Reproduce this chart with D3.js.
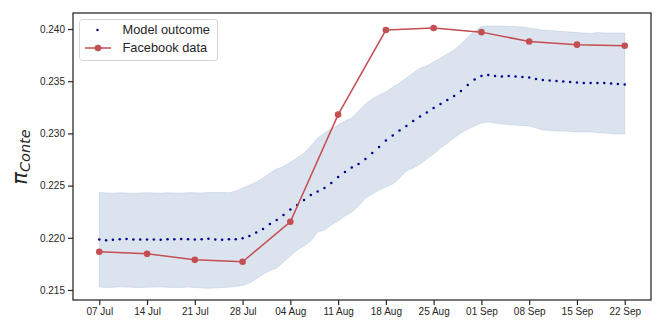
<!DOCTYPE html>
<html>
<head>
<meta charset="utf-8">
<script src="https://d3js.org/d3.v7.min.js"></script>
<style>
  body { margin: 0; background: #fff; }
  svg { display: block; font-family: "Liberation Sans", Arial, sans-serif; }
</style>
</head>
<body>
<div class="vis"></div>
<script>
  // weekly tick labels / Facebook survey dates
  const weekLabels = ["07 Jul", "14 Jul", "21 Jul", "28 Jul", "04 Aug", "11 Aug",
    "18 Aug", "25 Aug", "01 Sep", "08 Sep", "15 Sep", "22 Sep"];
  const facebook = [0.21866, 0.21847, 0.21789, 0.2177, 0.22153, 0.2318,
    0.2399, 0.2401, 0.2397, 0.2388, 0.2385, 0.2384];

  // daily model outcome, from 07 Jul to 22 Sep
  const modelMean = [
    0.21983, 0.21976, 0.21982, 0.21986, 0.21988, 0.21984, 0.21984, 0.21984, 0.21983, 0.21982,
    0.21985, 0.21986, 0.21989, 0.21985, 0.21983, 0.21987, 0.21990, 0.21983, 0.21982, 0.21985,
    0.21986, 0.21995, 0.22017, 0.22051, 0.22084, 0.22132, 0.22170, 0.22218, 0.22271, 0.22314,
    0.22362, 0.22410, 0.22443, 0.22477, 0.22525, 0.22582, 0.22630, 0.22673, 0.22707, 0.22755,
    0.22812, 0.22870, 0.22932, 0.22980, 0.23028, 0.23071, 0.23119, 0.23162, 0.23200, 0.23243,
    0.23282, 0.23320, 0.23358, 0.23406, 0.23464, 0.23516, 0.23550, 0.23559, 0.23550, 0.23545,
    0.23550, 0.23545, 0.23540, 0.23535, 0.23521, 0.23511, 0.23507, 0.23502, 0.23497, 0.23492,
    0.23487, 0.23483, 0.23483, 0.23483, 0.23483, 0.23478, 0.23473, 0.23468];
  const modelUpper = [
    0.22434, 0.22429, 0.22427, 0.22431, 0.22429, 0.22426, 0.22429, 0.22432, 0.22429, 0.22427,
    0.22431, 0.22429, 0.22426, 0.22433, 0.22431, 0.22429, 0.22434, 0.22435, 0.22434, 0.22432,
    0.22448, 0.22477, 0.22506, 0.22534, 0.22573, 0.22620, 0.22659, 0.22683, 0.22726, 0.22764,
    0.22812, 0.22879, 0.22956, 0.23004, 0.23042, 0.23080, 0.23119, 0.23147, 0.23214, 0.23282,
    0.23329, 0.23368, 0.23396, 0.23444, 0.23483, 0.23531, 0.23578, 0.23626, 0.23646, 0.23684,
    0.23722, 0.23761, 0.23799, 0.23856, 0.23923, 0.23981, 0.24024, 0.24029, 0.24029, 0.24029,
    0.24024, 0.24024, 0.24019, 0.24010, 0.24000, 0.23990, 0.23986, 0.23981, 0.23976, 0.23971,
    0.23966, 0.23962, 0.23957, 0.23966, 0.23962, 0.23962, 0.23962, 0.23962];
  const modelLower = [
    0.21528, 0.21524, 0.21526, 0.21530, 0.21528, 0.21525, 0.21524, 0.21526, 0.21528, 0.21530,
    0.21526, 0.21524, 0.21525, 0.21528, 0.21523, 0.21519, 0.21516, 0.21519, 0.21524, 0.21526,
    0.21533, 0.21543, 0.21567, 0.21605, 0.21653, 0.21686, 0.21710, 0.21768, 0.21825, 0.21883,
    0.21921, 0.21969, 0.22055, 0.22074, 0.22122, 0.22161, 0.22209, 0.22247, 0.22304, 0.22381,
    0.22419, 0.22458, 0.22486, 0.22515, 0.22573, 0.22640, 0.22668, 0.22707, 0.22755, 0.22803,
    0.22860, 0.22908, 0.22956, 0.23004, 0.23042, 0.23071, 0.23099, 0.23109, 0.23099, 0.23090,
    0.23085, 0.23080, 0.23076, 0.23071, 0.23052, 0.23032, 0.23028, 0.23023, 0.23023, 0.23018,
    0.23013, 0.23013, 0.23013, 0.23008, 0.23004, 0.22999, 0.22994, 0.22994];
  const yTicks = [0.215, 0.220, 0.225, 0.230, 0.235, 0.240];

  const width = 664, height = 332;
  const margin = {top: 13, right: 13, bottom: 32, left: 73};
  const day = 864e5;
  const start = Date.UTC(2020, 6, 7);
  const weekDates = weekLabels.map((d, i) => new Date(start + i * 7 * day));
  const dayDates = modelMean.map((d, i) => new Date(start + i * day));
  const span = weekDates[weekDates.length - 1] - weekDates[0];

  const x = d3.scaleUtc()
    .domain([new Date(+weekDates[0] - span * 0.05), new Date(+weekDates[weekDates.length - 1] + span * 0.05)])
    .range([margin.left, width - margin.right]);
  const y = d3.scaleLinear()
    .domain([0.214042, 0.241533])
    .range([height - margin.bottom, margin.top]);

  const svg = d3.select('.vis').append('svg')
    .attr("width", width).attr("height", height);

  // uncertainty band
  const band = dayDates.map((d, i) => ({d, lo: modelLower[i], hi: modelUpper[i]}));
  svg.append("path")
    .datum(band)
    .attr("d", d3.area().x(p => x(p.d)).y0(p => y(p.lo)).y1(p => y(p.hi)))
    .attr("fill", "#4c72b0").attr("fill-opacity", 0.2)
    .attr("stroke", "#4c72b0").attr("stroke-opacity", 0.15).attr("stroke-width", 1);

  // model outcome dots
  svg.append("g").selectAll("circle")
    .data(dayDates.map((d, i) => ({d, v: modelMean[i]})))
    .join("circle")
    .attr("cx", p => x(p.d)).attr("cy", p => y(p.v))
    .attr("r", 1.25).attr("fill", "#00008b");

  // Facebook data
  const fb = weekDates.map((d, i) => ({d, v: facebook[i]}));
  svg.append("path")
    .datum(fb)
    .attr("d", d3.line().x(p => x(p.d)).y(p => y(p.v)))
    .attr("fill", "none").attr("stroke", "#c44e52").attr("stroke-width", 1.5);
  svg.append("g").selectAll("circle")
    .data(fb)
    .join("circle")
    .attr("cx", p => x(p.d)).attr("cy", p => y(p.v))
    .attr("r", 3.3).attr("fill", "#c44e52");

  // axes
  const xAxis = svg.append("g")
    .attr("transform", `translate(0,${height - margin.bottom})`)
    .call(d3.axisBottom(x).tickValues(weekDates).tickFormat((d, i) => weekLabels[i]).tickSize(5).tickPadding(3));
  const yAxis = svg.append("g")
    .attr("transform", `translate(${margin.left},0)`)
    .call(d3.axisLeft(y).tickValues(yTicks).tickFormat(d3.format(".3f")).tickSize(5).tickPadding(3));
  [xAxis, yAxis].forEach(a => {
    a.select(".domain").remove();
    a.selectAll(".tick line").attr("stroke", "#262626").attr("stroke-width", 1.2);
    a.selectAll(".tick text").attr("fill", "#262626").style("font-size", "10px")
      .style("font-family", "'Liberation Sans', Arial, sans-serif");
  });

  // frame
  svg.append("rect")
    .attr("x", margin.left).attr("y", margin.top)
    .attr("width", width - margin.left - margin.right)
    .attr("height", height - margin.top - margin.bottom)
    .attr("fill", "none").attr("stroke", "#262626").attr("stroke-width", 1.25);

  // y label
  const yl = svg.append("text")
    .attr("transform", "translate(27,157) rotate(-90)")
    .attr("text-anchor", "middle")
    .attr("fill", "#262626")
    .style("font-family", "'DejaVu Sans', sans-serif")
    .style("font-style", "italic");
  yl.append("tspan").text("π").style("font-size", "21px");
  yl.append("tspan").text("Conte").attr("dy", 3).style("font-size", "14.5px");

  // legend
  const lg = svg.append("g");
  lg.append("rect")
    .attr("x", 79.5).attr("y", 19.5).attr("width", 138).attr("height", 41).attr("rx", 3)
    .attr("fill", "#fff").attr("fill-opacity", 0.8).attr("stroke", "#cccccc").attr("stroke-width", 0.8);
  lg.append("circle").attr("cx", 97.5).attr("cy", 30).attr("r", 1.25).attr("fill", "#00008b");
  lg.append("line").attr("x1", 85).attr("x2", 111).attr("y1", 48).attr("y2", 48)
    .attr("stroke", "#c44e52").attr("stroke-width", 1.5);
  lg.append("circle").attr("cx", 98).attr("cy", 48).attr("r", 3.3).attr("fill", "#c44e52");
  lg.selectAll("text.lab")
    .data(["Model outcome", "Facebook data"])
    .join("text")
    .attr("x", 122.5).attr("y", (d, i) => 30 + i * 18)
    .attr("dy", "0.35em")
    .attr("fill", "#262626")
    .style("font-size", "12.8px")
    .text(d => d);
</script>
</body>
</html>
